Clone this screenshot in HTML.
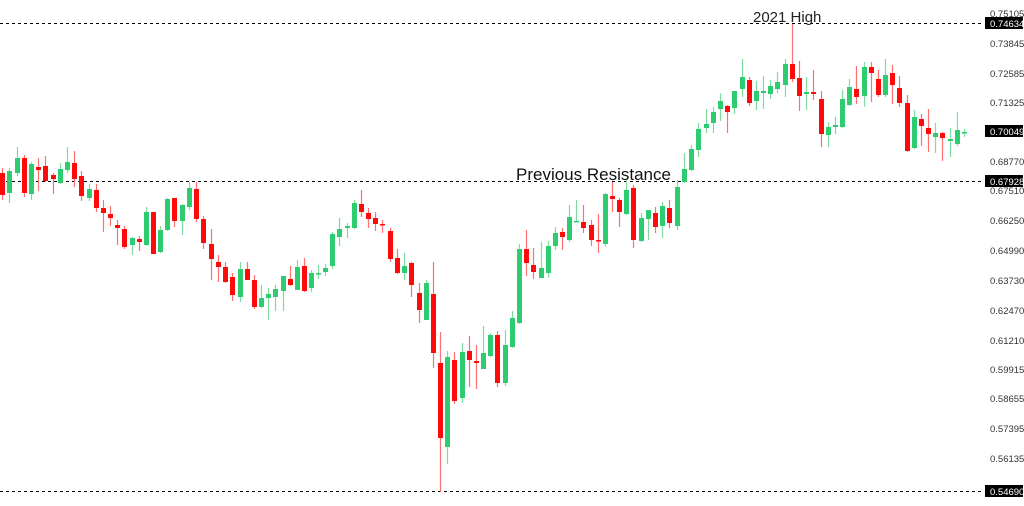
<!DOCTYPE html>
<html><head><meta charset="utf-8">
<style>
html,body{margin:0;padding:0;background:#fff;}
svg{display:block;font-family:"Liberation Sans",sans-serif;}
</style></head>
<body>
<svg id="c" width="1024" height="506" viewBox="0 0 1024 506" xmlns="http://www.w3.org/2000/svg">
<rect width="1024" height="506" fill="#fff"/>
<g stroke="#000" stroke-width="1" stroke-dasharray="3,3">
<line x1="0" y1="23.5" x2="984" y2="23.5"/>
<line x1="0" y1="181.5" x2="984" y2="181.5"/>
<line x1="0" y1="491.5" x2="984" y2="491.5"/>
</g>
<g id="candles"></g>
<g font-size="9.5" fill="#333">
<text x="990" y="17">0.75105</text>
<text x="990" y="47">0.73845</text>
<text x="990" y="77">0.72585</text>
<text x="990" y="106">0.71325</text>
<text x="990" y="165">0.68770</text>
<text x="990" y="194">0.67510</text>
<text x="990" y="224">0.66250</text>
<text x="990" y="254">0.64990</text>
<text x="990" y="284">0.63730</text>
<text x="990" y="314">0.62470</text>
<text x="990" y="344">0.61210</text>
<text x="990" y="373">0.59915</text>
<text x="990" y="402">0.58655</text>
<text x="990" y="432">0.57395</text>
<text x="990" y="462">0.56135</text>
</g>
<g>
<rect x="985" y="17" width="38" height="12" fill="#000"/>
<rect x="985" y="125" width="38" height="12" fill="#000"/>
<rect x="985" y="175" width="38" height="12" fill="#000"/>
<rect x="985" y="485" width="38" height="12" fill="#000"/>
</g>
<g font-size="9.5" fill="#fff">
<text x="990" y="27">0.74634</text>
<text x="990" y="135">0.70049</text>
<text x="990" y="185">0.67928</text>
<text x="990" y="495">0.54690</text>
</g>
<text x="753" y="22" font-size="15" fill="#222">2021 High</text>
<text x="516" y="180" font-size="17" fill="#111">Previous Resistance</text>
</svg>
<script>
var d=[
[0,173,195,168,200],[7,193,171,168,203],[15,173,158,147,176],[22,158,193,155,197],[29,194,164,162,200],
[36,167,170,158,191],[43,166,181,156,182],[51,175,179,173,194],[58,183,169,163,184],[65,170,162,147,173],
[72,163,179,151,187],[79,176,196,171,201],[87,198,189,184,201],[94,190,208,184,212],[101,208,213,200,232],
[108,214,218,206,226],[115,225,228,220,245],[122,229,247,226,249],[130,245,238,237,255],[137,239,242,236,251],
[144,245,212,207,246],[151,212,254,212,254],[158,252,230,226,253],[165,230,199,198,231],[172,198,221,198,227],
[180,221,205,204,235],[187,207,188,182,210],[194,189,219,182,222],[201,219,243,216,249],[209,244,259,229,280],
[216,262,267,255,282],[223,267,282,262,283],[230,277,295,273,301],[238,297,269,262,302],[245,269,280,262,280],
[252,280,307,275,309],[259,307,298,285,308],[266,298,294,288,320],[273,297,289,285,311],[281,291,276,276,311],
[288,279,285,266,286],[295,290,267,260,290],[302,266,291,258,292],[309,288,273,270,292],[316,274,273,265,279],
[323,272,268,264,276],[330,266,234,232,269],[337,237,229,218,246],[345,228,226,223,238],[352,228,203,200,229],
[359,204,212,190,217],[366,213,219,208,228],[373,218,224,212,231],[380,224,225,220,233],[388,231,259,228,262],
[395,258,273,249,274],[402,273,266,253,280],[409,263,285,262,297],[417,293,310,283,323],[424,320,283,280,320],
[431,294,353,262,368],[438,363,438,332,492],[445,447,357,351,464],[452,360,401,352,404],[460,398,352,343,403],
[467,351,360,336,387],[474,361,363,345,389],[481,369,353,326,369],[488,356,335,333,357],[495,335,383,331,387],
[503,383,345,330,386],[510,347,318,311,348],[517,323,249,244,324],[524,249,263,230,276],[531,265,272,248,279],
[539,278,268,242,278],[546,273,246,241,278],[553,246,233,227,250],[560,232,237,228,250],[567,240,217,205,242],
[574,222,221,200,222],[581,222,228,205,233],[589,225,240,220,246],[596,240,241,214,253],[603,244,194,193,247],
[610,196,199,182,212],[617,200,212,198,227],[624,214,190,180,215],[631,188,240,185,248],[639,241,218,213,242],
[646,219,210,210,240],[653,213,227,207,233],[660,226,206,202,238],[667,208,223,200,228],[675,226,187,180,230],
[682,182,169,153,183],[689,170,149,145,171],[696,150,129,123,157],[704,128,124,109,133],[711,123,112,107,133],
[718,109,101,93,121],[725,106,112,105,133],[732,108,91,91,114],[740,89,77,59,97],[747,80,103,77,106],
[754,101,91,81,110],[761,93,91,76,109],[768,94,86,80,99],[775,89,82,72,93],[783,85,64,59,97],
[790,64,79,24,82],[797,78,96,61,111],[804,94,92,77,110],[811,92,94,70,100],[819,99,134,91,147],
[826,135,127,122,147],[833,127,125,117,134],[840,127,99,90,128],[847,105,87,79,106],[854,89,97,66,104],
[862,96,67,62,107],[869,67,73,62,102],[876,79,95,70,97],[883,95,75,59,97],[890,73,85,65,104],
[897,88,103,76,107],[905,103,151,95,152],[912,148,117,110,149],[919,119,126,114,146],[926,128,134,109,152],
[933,137,133,123,153],[940,133,138,132,161],[948,141,139,128,157],[955,144,130,112,146],[962,132.5,132,129,137]
];
var g=document.getElementById('candles'),h='';
d.forEach(function(c){
 var x=c[0]+2.5,up=c[2]<c[1],col=up?'#2ecc71':'#ff0a0a',wc=up?'#7fdc9f':'#ff7070';
 var t=Math.min(c[1],c[2]),b=Math.max(c[1],c[2]);if(b-t<1.5)b=t+1.5;
 h+='<line x1="'+x+'" x2="'+x+'" y1="'+c[3]+'" y2="'+c[4]+'" stroke="'+wc+'" stroke-width="1.2"/>';
 h+='<rect x="'+(x-2.5)+'" y="'+t+'" width="5" height="'+(b-t)+'" fill="'+col+'"/>';
});
g.innerHTML=h;
</script>
</body></html>
